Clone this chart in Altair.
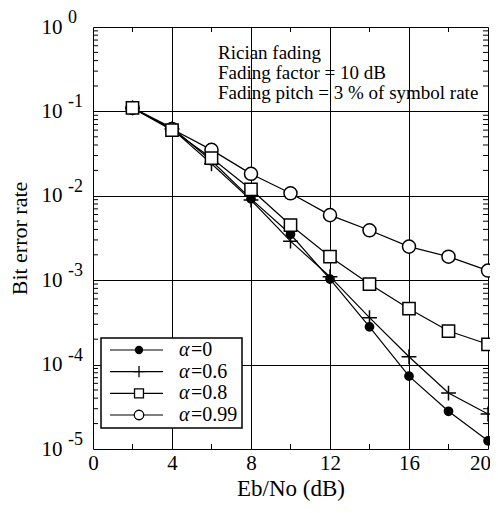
import altair as alt
import pandas as pd

# ---- data ----
snr = [2, 4, 6, 8, 10, 12, 14, 16, 18, 20]
ber_a0 = [0.11, 0.064, 0.026, 0.0092, 0.0035, 0.00103, 0.00028, 7.3e-5, 2.8e-5, 1.25e-5]
ber_a06 = [0.11, 0.062, 0.024, 0.0089, 0.0029, 0.0011, 0.00036, 1.24e-4, 4.6e-5, 2.6e-5]
ber_a08 = [0.11, 0.06, 0.028, 0.0119, 0.0045, 0.0019, 0.0009, 0.00046, 0.00025, 0.000174]
ber_a099 = [0.11, 0.062, 0.035, 0.0182, 0.0107, 0.0059, 0.0039, 0.0025, 0.0019, 0.0013]
series_names = ["α=0", "α=0.6", "α=0.8", "α=0.99"]
series_vals = ["=0", "=0.6", "=0.8", "=0.99"]
x_ticks = [0, 4, 8, 12, 16, 20]
x_minor = [2, 6, 10, 14, 18]
y_decades = [1, 0.1, 0.01, 0.001, 0.0001, 0.00001]
y_exponents = ["0", "-1", "-2", "-3", "-4", "-5"]
notes = ["Rician fading", "Fading factor = 10 dB", "Fading pitch = 3 % of symbol rate"]

FONT = "Liberation Serif"
W, H = 395, 422

rows = []
for name, vals in zip(series_names, [ber_a0, ber_a06, ber_a08, ber_a099]):
    for x, v in zip(snr, vals):
        rows.append({"snr": x, "ber": v, "series": name})
df = pd.DataFrame(rows)

y_minor = []
for d in y_decades[1:]:
    for k in range(2, 10):
        y_minor.append(k * d)

xs = alt.Scale(domain=[0, 20], nice=False)
ys = alt.Scale(type="log", domain=[1e-5, 1], nice=False)

X = alt.X("snr:Q", scale=xs, axis=alt.Axis(
    values=x_ticks, grid=True, gridColor="black", gridWidth=1, gridOpacity=1,
    ticks=False, domain=False, labelFont=FONT, labelFontSize=21, labelColor="black",
    labelPadding=3, title="Eb/No (dB)", titleFont=FONT, titleFontSize=23,
    titleFontWeight="normal", titleColor="black", titlePadding=4, labelFlush=False,
    labelOffset={"condition": {"test": "datum.value == 20", "value": -8}, "value": 0}))
Y = alt.Y("ber:Q", scale=ys, axis=alt.Axis(
    values=y_decades, grid=True, gridColor="black", gridWidth=1, gridOpacity=1,
    ticks=False, domain=False, labelExpr="'10'", labelFont=FONT, labelFontSize=21,
    labelColor="black", labelPadding=31, labelBaseline="middle",
    title="Bit error rate", titleFont=FONT, titleFontSize=22, titleFontWeight="normal",
    titleColor="black", titlePadding=10))

base = alt.Chart(df)
lines = base.mark_line(color="black", strokeWidth=1.2).encode(x=X, y=Y, detail="series:N")

def pts(name, **kw):
    return alt.Chart(df[df.series == name]).mark_point(**kw).encode(
        x=alt.X("snr:Q", scale=xs), y=alt.Y("ber:Q", scale=ys))

p0 = pts("α=0", shape="circle", filled=True, fill="black", stroke="black", size=60, opacity=1)
p06 = pts("α=0.6", shape="M-1,0H1M0,-1V1", filled=False, stroke="black", strokeWidth=1.5, size=220, opacity=1)
p099 = pts("α=0.99", shape="circle", filled=True, fill="white", stroke="black", strokeWidth=1.5, size=170, opacity=1)
p08 = pts("α=0.8", shape="square", filled=True, fill="white", stroke="black", strokeWidth=1.5, size=150, opacity=1)

# minor ticks (inside)
ydf = pd.DataFrame({"v": y_minor})
ytl = alt.Chart(ydf).mark_rule(color="black", strokeWidth=1).encode(
    y=alt.Y("v:Q", scale=ys), x=alt.value(0), x2=alt.value(5))
ytr = alt.Chart(ydf).mark_rule(color="black", strokeWidth=1).encode(
    y=alt.Y("v:Q", scale=ys), x=alt.value(W - 5), x2=alt.value(W))
xdf = pd.DataFrame({"v": x_minor})
xtb = alt.Chart(xdf).mark_rule(color="black", strokeWidth=1).encode(
    x=alt.X("v:Q", scale=xs), y=alt.value(H - 5), y2=alt.value(H))
xtt = alt.Chart(xdf).mark_rule(color="black", strokeWidth=1).encode(
    x=alt.X("v:Q", scale=xs), y=alt.value(0), y2=alt.value(5))

# exponents of y labels
edf = pd.DataFrame({"v": y_decades, "e": y_exponents})
exps = alt.Chart(edf).mark_text(font=FONT, fontSize=18, align="left", baseline="middle",
                                dy=-9, color="black").encode(
    y=alt.Y("v:Q", scale=ys), x=alt.value(-25), text="e:N")

# annotation
ndf = pd.DataFrame({"t": notes, "i": [0, 1, 2]})
note = alt.Chart(ndf).mark_text(font=FONT, fontSize=19, align="left", baseline="middle",
                                color="black").encode(
    x=alt.value(125),
    y=alt.Y("i:O", scale=alt.Scale(type="point", domain=[0, 1, 2], range=[26, 66], padding=0), axis=None),
    text="t:N")

main = alt.layer(lines, ytl, ytr, xtb, xtt, p0, p06, p099, p08, exps)

# legend
ldf = pd.DataFrame({"series": series_names, "val": series_vals})
LY = alt.Y("series:N", scale=alt.Scale(type="point", domain=series_names, range=[323, 388], padding=0), axis=None)
box = alt.Chart(pd.DataFrame({"a": [0]})).mark_rect(fill="white", stroke="black", strokeWidth=1.5).encode(
    x=alt.value(8), x2=alt.value(149), y=alt.value(311), y2=alt.value(401))
lline = alt.Chart(ldf).mark_rule(color="black", strokeWidth=1.2).encode(
    y=LY, x=alt.value(17), x2=alt.value(70))

def lpt(name, **kw):
    return alt.Chart(ldf[ldf.series == name]).mark_point(**kw).encode(y=LY, x=alt.value(46))

l0 = lpt("α=0", shape="circle", filled=True, fill="black", stroke="black", size=40, opacity=1)
l06 = lpt("α=0.6", shape="M-1,0H1M0,-1V1", filled=False, stroke="black", strokeWidth=1.3, size=130, opacity=1)
l08 = lpt("α=0.8", shape="square", filled=True, fill="white", stroke="black", strokeWidth=1.3, size=80, opacity=1)
l099 = lpt("α=0.99", shape="circle", filled=True, fill="white", stroke="black", strokeWidth=1.3, size=90, opacity=1)
lalpha = alt.Chart(ldf).mark_text(font=FONT, fontSize=20, fontStyle="italic", align="left",
                                  baseline="middle", color="black").encode(
    y=LY, x=alt.value(86), text=alt.value("α"))
lval = alt.Chart(ldf).mark_text(font=FONT, fontSize=20, align="left", baseline="middle",
                                color="black").encode(y=LY, x=alt.value(98), text="val:N")
legend = alt.layer(box, lline, l0, l06, l08, l099, lalpha, lval)

chart = alt.layer(main, note, legend).resolve_scale(y="independent").properties(
    width=W, height=H,
    autosize=alt.AutoSizeParams(type="none"),
    padding={"left": 85, "top": 19, "right": 2, "bottom": 56},
).configure_view(stroke="black", strokeWidth=2).configure(background="white")

chart.save("out.html", embed_options={"renderer": "svg", "actions": False})
